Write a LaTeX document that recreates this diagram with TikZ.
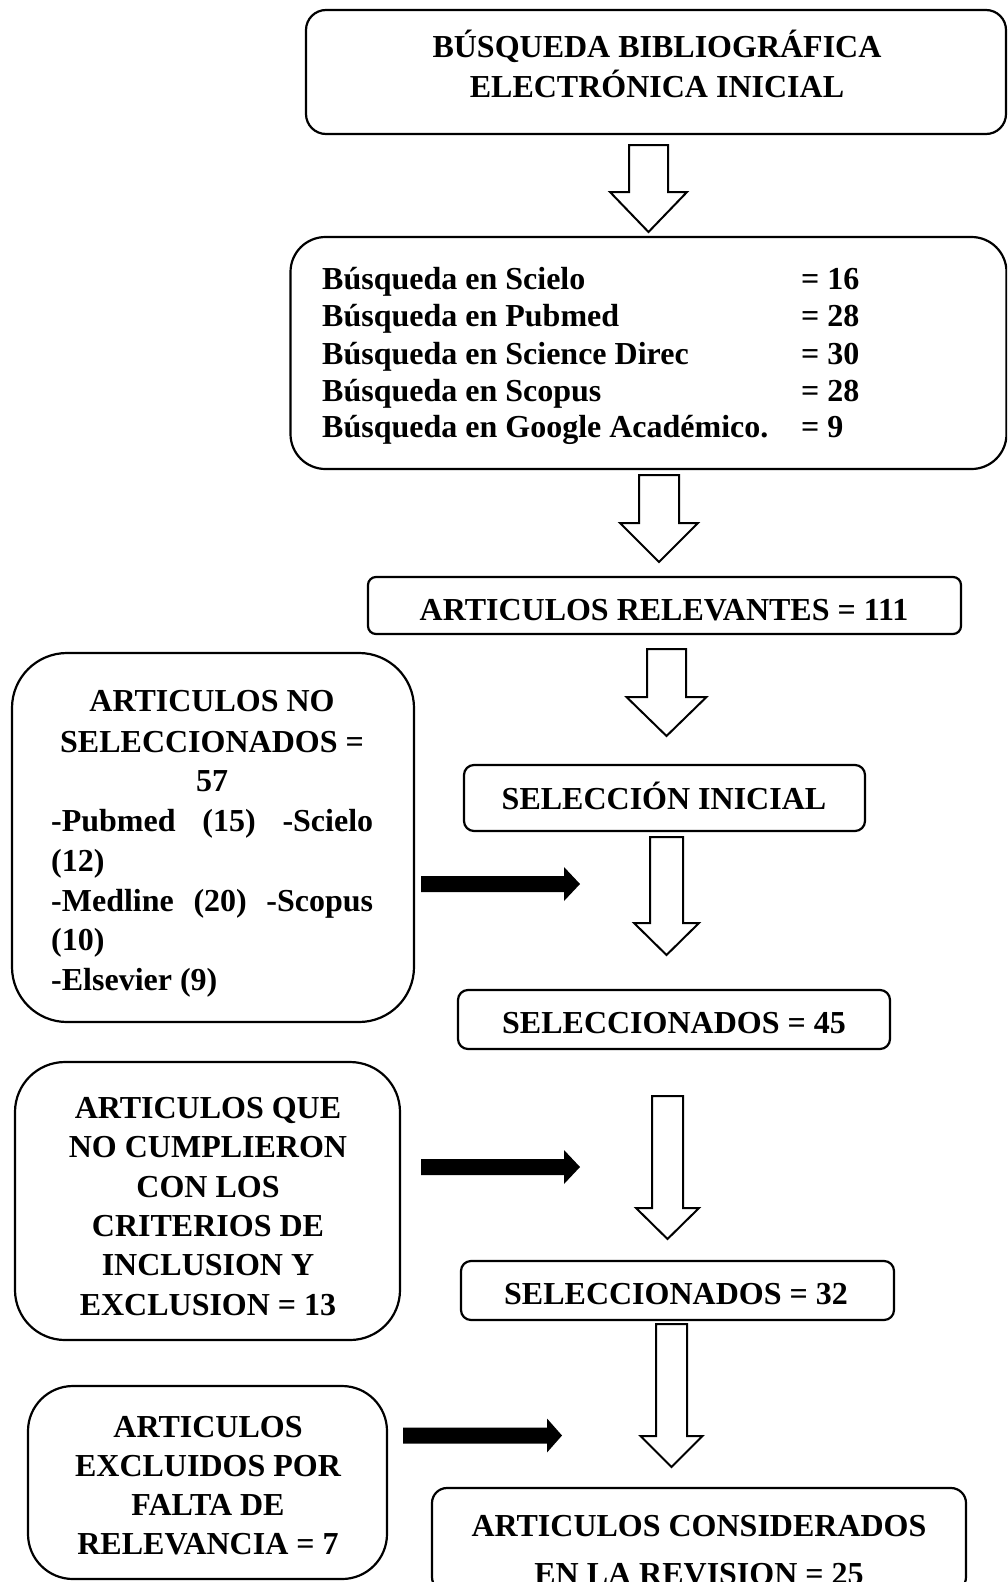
\documentclass[tikz,border=0pt]{standalone}
\usepackage{fontspec}
\setmainfont{Liberation Serif}
\newcommand\hollowarrow[6]{% cx, shaft half width, top, head y, head half width, tip
  \draw[harrow] (#1-#2,#3) -- (#1+#2,#3) -- (#1+#2,#4) -- (#1+#5,#4) -- (#1,#6) -- (#1-#5,#4) -- (#1-#2,#4) -- cycle;}
\newcommand\solidarrow[6]{% x start, y, head start, tip, shaft half, head half
  \fill (#1,#2-#5) -- (#3,#2-#5) -- (#3,#2-#6) -- (#4,#2) -- (#3,#2+#6) -- (#3,#2+#5) -- (#1,#2+#5) -- cycle;}
\begin{document}
\begin{tikzpicture}[x=1pt,y=-1pt,
  box/.style={draw, line width=2.2pt, inner sep=0pt},
  txt/.style={font=\fontsize{32}{39.5}\selectfont\bfseries, inner sep=0pt, anchor=base},
  txtl/.style={txt, anchor=base west},
  harrow/.style={draw, line width=2pt, fill=white, line join=miter},
]
\clip (0,0) rectangle (1007,1582);
\fill[white] (0,0) rectangle (1007,1582);

% ---------- boxes ----------
\node[box, rounded corners=20pt, minimum width=700pt, minimum height=124pt] (b1) at (656,72) {};
\node[box, rounded corners=35pt, minimum width=716pt, minimum height=232pt] (b2) at (648.5,353) {};
\node[box, rounded corners=8pt, minimum width=593pt, minimum height=57pt] (b3) at (664.5,605.5) {};
\node[box, rounded corners=10pt, minimum width=401pt, minimum height=66pt] (b4) at (664.5,798) {};
\node[box, rounded corners=10pt, minimum width=432pt, minimum height=59pt] (b5) at (674,1019.5) {};
\node[box, rounded corners=10pt, minimum width=433pt, minimum height=59pt] (b6) at (677.5,1290.5) {};
\node[box, rounded corners=15pt, minimum width=534pt, minimum height=104pt] (b7) at (699,1540) {};
\node[box, rounded corners=55pt, minimum width=402pt, minimum height=369pt] (l1) at (213,837.5) {};
\node[box, rounded corners=50pt, minimum width=385pt, minimum height=278pt] (l2) at (207.5,1201) {};
\node[box, rounded corners=45pt, minimum width=359pt, minimum height=193pt] (l3) at (207.5,1482.5) {};

% ---------- texts ----------
\node[txt] (t1a) at (657,57) {BÚSQUEDA BIBLIOGRÁFICA};
\node[txt] (t1b) at (657,97) {ELECTRÓNICA INICIAL};

\node[txtl] (s1) at (322,289) {Búsqueda en Scielo};
\node[txtl] (s2) at (322,326) {Búsqueda en Pubmed};
\node[txtl] (s3) at (322,364) {Búsqueda en Science Direc};
\node[txtl] (s4) at (322,401) {Búsqueda en Scopus};
\node[txtl] (s5) at (322,437) {Búsqueda en Google Académico.};
\node[txtl] (n1) at (801,289) {= 16};
\node[txtl] (n2) at (801,326) {= 28};
\node[txtl] (n3) at (801,364) {= 30};
\node[txtl] (n4) at (801,401) {= 28};
\node[txtl] (n5) at (801,437) {= 9};

\node[txt] (t3) at (664,620) {ARTICULOS RELEVANTES = 111};
\node[txt] (t4) at (664,809) {SELECCIÓN INICIAL};
\node[txt] (t5) at (674,1033) {SELECCIONADOS = 45};
\node[txt] (t6) at (676,1304) {SELECCIONADOS = 32};
\node[txt] (t7a) at (699,1536) {ARTICULOS CONSIDERADOS};
\node[txt] (t7b) at (699,1584) {EN LA REVISION = 25};

\node[txt] (l1a) at (212,711) {ARTICULOS NO};
\node[txt] (l1b) at (212,752) {SELECCIONADOS =};
\node[txt] (l1c) at (212,791) {57};
\node[txtl] (l1d) at (51,831) {\hbox to 322pt{-Pubmed\hfill(15)\hfill-Scielo}};
\node[txtl] (l1e) at (51,871) {(12)};
\node[txtl] (l1f) at (51,911) {\hbox to 322pt{-Medline\hfill(20)\hfill-Scopus}};
\node[txtl] (l1g) at (51,950) {(10)};
\node[txtl] (l1h) at (51,990) {-Elsevier (9)};

\node[txt] (l2a) at (208,1118) {ARTICULOS QUE};
\node[txt] (l2b) at (208,1157) {NO CUMPLIERON};
\node[txt] (l2c) at (208,1197) {CON LOS};
\node[txt] (l2d) at (208,1236) {CRITERIOS DE};
\node[txt] (l2e) at (208,1275) {INCLUSION Y};
\node[txt] (l2f) at (208,1315) {EXCLUSION = 13};

\node[txt] (l3a) at (208,1437) {ARTICULOS};
\node[txt] (l3b) at (208,1476) {EXCLUIDOS POR};
\node[txt] (l3c) at (208,1515) {FALTA DE};
\node[txt] (l3d) at (208,1554) {RELEVANCIA = 7};

% ---------- hollow arrows ----------
\hollowarrow{648.5}{19.5}{145}{192}{38.5}{232}
\hollowarrow{659}{20}{475}{523}{39}{562}
\hollowarrow{666.5}{19.5}{649}{697}{40}{736}
\hollowarrow{666.5}{16.5}{837}{923}{32.5}{955}
\hollowarrow{667.5}{15.5}{1096}{1208}{31.5}{1239}
\hollowarrow{671.5}{15.5}{1324}{1436}{31}{1467}

% ---------- solid arrows ----------
\solidarrow{421}{884}{564}{580}{8}{17}
\solidarrow{421}{1167}{564}{580}{8}{17}
\solidarrow{403}{1435.5}{547}{562}{8}{17}
\end{tikzpicture}
\end{document}
